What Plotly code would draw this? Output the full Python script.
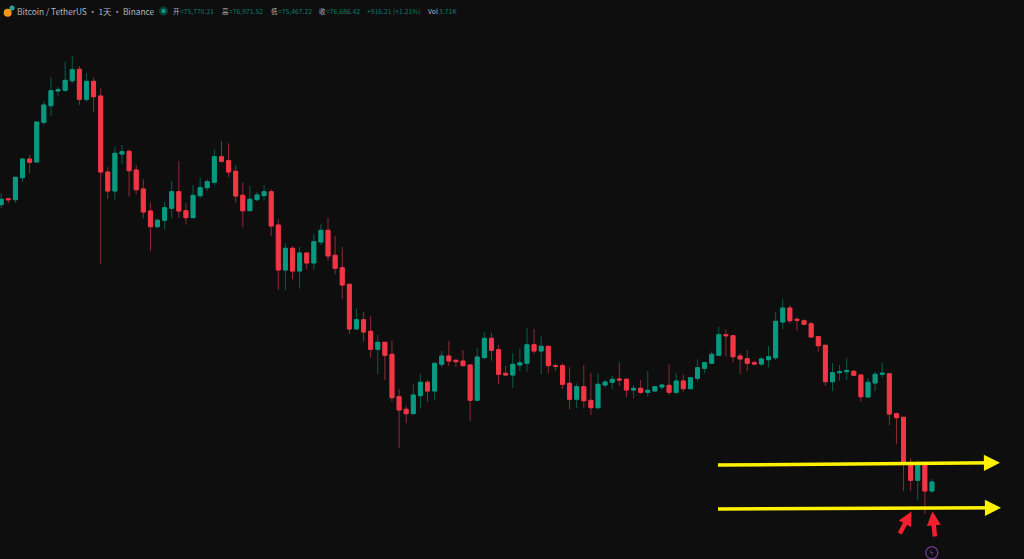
import plotly.graph_objects as go

# Daily BTC/USDT prices, in thousands of USDT
opens = [104.53,105.13,105.03,107.23,109.1,108.8,112.77,114.43,115.9,115.97,116.93,118.07,115.07,116.87,115.4,107.8,105.9,109.6,109.87,108,106.1,103.9,102.33,102.97,104.17,105.83,103.93,103.23,105.43,106.23,106.77,109.33,108.93,107.87,105.47,103.93,105.03,105.43,105.83,
102.5,98,100.17,97.9,99.7,98.7,100.8,101.97,99.47,98.23,96.57,92.1,93.03,91.87,90.07,90.77,89.57,85.33,84.07,83.63,85.43,86.77,85.9,88.57,89.4,88.97,88.9,88.5,84.97,89.23,91.17,90.03,87.67,87.5,88.5,88.67,90.53,89.9,90.37,
88.43,88.43,86.67,85.07,86.33,84.97,84.23,86.5,86.77,87.1,87.07,86,86.17,85.77,85.9,86.3,86.47,85.77,86.9,86.13,87.17,88.17,88.67,89.47,91.53,91.43,89.4,89.13,88.73,88.6,89.03,89.23,92.8,94.2,93.07,92.93,92.63,91.33,
90.47,86.83,87.73,87.83,87.87,87.5,85.3,86.7,87.57,87.63,83.63,83.27,78.6,76.97,78.5,75.9]
highs = [105.67,105.2,107.27,109.1,109.5,112.8,114.9,117.27,116.33,118.83,119.4,118.4,117.67,117.23,116.17,108.27,110.33,110.5,110.07,108.5,107.07,104.73,103.17,104.83,106.9,108.9,104.67,106.5,107.23,107.07,110.07,110.9,110.67,108.5,106.77,106.43,105.8,106.47,106.07,
103.07,100.67,100.4,100.33,99.7,101.6,102.57,103.23,101.4,100.33,96.57,94.17,93.83,93.4,91.5,90.77,90.93,86.1,84.4,86.57,87.6,87,88.67,89.9,90.9,89.07,90,88.5,90.17,91.77,91.73,90.5,88.4,89.67,90.17,92.17,92.1,91.33,90.4,
88.67,88.67,88.27,86.67,88.5,87.73,87.67,87,87.4,88.77,87.2,86.5,87,87.9,86.4,86.6,88.6,87.73,87.57,87.23,89.07,88.83,89.83,92.33,92.07,91.43,89.67,90,88.93,89.33,90.4,93.77,95.07,94.5,93.27,93.07,92.83,91.33,
90.57,88.67,88.5,89.23,88,87.6,87.17,87.83,88.73,87.63,83.73,83.27,79.17,79,78.67,77.1]
lows = [104.17,104.67,104.7,106.8,107.67,108.8,112.5,113.4,115.33,115.83,116.67,114.5,114.83,113.77,98.6,105.1,105.07,108.57,105.33,105.57,103.17,99.9,102.17,102.07,103.17,103.23,102.57,103.23,105.17,105.93,106.5,108.73,107.27,104.73,102.27,103.93,104.9,104.93,101.4,
96,96,97.1,96.13,98.07,98,100.5,98.93,97.57,95.1,91.6,92.1,90.83,89.23,87.57,87,84.83,80.17,82.67,83.63,84.13,84.83,85,88.27,88.4,88.3,88.43,82.87,84.97,89.23,88.93,86.57,87.43,86.23,87.9,87.83,89.6,87.57,87.67,
87.93,86.1,84.07,84.17,84.17,83.5,84.07,86.27,86.1,86.4,85.27,85.17,85.6,85.33,85.9,86.07,85.5,85.57,85.83,86.13,86.83,87.67,88.67,89.47,89.33,88.77,87.6,87.9,88.5,88.4,88.27,89,92.1,92.67,91.93,92.5,91.3,89.83,
86.4,85.9,86.93,87,87.4,84.83,85.23,85.9,87.23,82.5,80.57,75.9,75.9,75,73.6,75.73]
closes = [105.07,105.03,107.27,109.1,108.77,112.8,114.5,115.93,116.03,116.97,118.03,115.07,116.87,115.33,107.8,105.9,109.67,109.83,107.93,106.03,103.8,102.33,102.97,104.23,105.83,103.9,103.23,105.47,106.23,106.83,109.33,108.87,107.8,105.4,103.93,105.07,105.5,105.83,102.4,
98,100.17,97.9,99.7,98.7,100.83,101.97,99.4,98.17,96.5,92.1,93.03,91.8,90.07,90.77,89.47,85.23,84,83.63,85.5,86.77,85.9,88.67,89.4,88.9,88.83,88.43,84.97,89.3,91.17,89.97,87.57,87.5,88.57,88.73,90.53,89.9,90.37,88.43,
88.37,86.57,85.07,86.33,84.93,84.23,86.57,86.8,87.07,87,86,86.17,85.77,85.97,86.33,86.5,85.77,86.9,86.13,87.23,88.23,88.73,89.57,91.53,91.43,89.33,89.1,88.67,88.6,89.1,89.33,92.87,94.2,92.93,92.97,92.57,91.3,90.43,
86.83,87.73,87.83,87.93,87.47,85.33,86.77,87.57,87.67,83.6,83.23,78.6,76.97,78.5,75.9,76.8]
days = list(range(len(closes)))

title_text = "Bitcoin / TetherUS\u2009·\u20091天\u2009·\u2009Binance"
ohlc_labels = ["开", "高", "低", "收"]
ohlc_values = ["75,770.21", "76,971.52", "75,467.22", "76,686.42"]
change_text = "+916.21 (+1.21%)"
volume_label = "Vol"
volume_value = "3.71K"

BG = "#0e0e0e"
UP, DOWN = "#089981", "#f23645"
UP_WICK, DOWN_WICK = "#0a5c4e", "#8c2a34"
YELLOW, ARROW_RED = "#fff200", "#f5202e"

X_STEP, X_FIRST = 7.105, 1.2     # px per day, px of first candle
W, H = 1024, 559
def px_x(p): return (p - X_FIRST) / X_STEP
def px_y(p): return 125 - p / 10

fig = go.Figure()
# dim wicks underneath, bright bodies on top
fig.add_trace(go.Candlestick(
    x=days, open=opens, high=highs, low=lows, close=closes,
    increasing=dict(line=dict(color=UP_WICK, width=1), fillcolor=UP_WICK),
    decreasing=dict(line=dict(color=DOWN_WICK, width=1), fillcolor=DOWN_WICK),
    showlegend=False, hoverinfo="skip"))
fig.add_trace(go.Candlestick(
    x=days, open=opens, close=closes,
    high=[max(o, c) for o, c in zip(opens, closes)],
    low=[min(o, c) for o, c in zip(opens, closes)],
    increasing=dict(line=dict(color=UP, width=1), fillcolor=UP),
    decreasing=dict(line=dict(color=DOWN, width=1), fillcolor=DOWN),
    showlegend=False))

ann = []
def arrow(x0, y0, x1, y1, color, width, size, head=2):
    ann.append(dict(x=px_x(x1), y=px_y(y1), ax=px_x(x0), ay=px_y(y0),
                    xref="x", yref="y", axref="x", ayref="y", text="",
                    showarrow=True, arrowhead=head, arrowsize=size,
                    arrowwidth=width, arrowcolor=color, standoff=0))
arrow(716.5, 465, 1000, 462.8, YELLOW, 3.5, 0.92)
arrow(716.5, 509, 1001, 507.8, YELLOW, 3.5, 0.92)
arrow(899, 535, 911.5, 511.5, ARROW_RED, 4.5, 0.62)
arrow(935, 538, 932.5, 511.5, ARROW_RED, 4.5, 0.62)

def label(x, text, color, size, yp=11):
    ann.append(dict(x=x / W, y=1 - yp / H, xref="paper", yref="paper", text=text,
                    showarrow=False, xanchor="left", yanchor="middle", borderpad=0, borderwidth=0,
                    font=dict(family="Noto Sans CJK SC, Liberation Sans, sans-serif",
                              size=size, color=color)))
label(17, title_text, "#b4b7c0", 8.3)
xs = [173, 221.5, 270.5, 319]
GREY, GREEN = "#b4b7c0", "#0a7d6a"
for xp, l, v in zip(xs, ohlc_labels, ohlc_values):
    label(xp, l, GREY, 6.5)
    label(xp + 7, "=" + v, GREEN, 6.8)
label(367, change_text, GREEN, 6.8)
label(428, volume_label, GREY, 6.8)
label(439, volume_value, GREEN, 6.8)
ann.append(dict(x=px_x(931.8), y=px_y(552.7), xref="x", yref="y", text="ϟ", showarrow=False,
                font=dict(family="DejaVu Sans", size=7, color="#7a3ea0")))
fig.update_layout(annotations=ann)

# header dots and earnings-style marker
fig.add_trace(go.Scatter(x=[px_x(7.7)], y=[px_y(12.7)], mode="markers",
    marker=dict(size=8, color="#f7931a"), hoverinfo="skip", showlegend=False))
fig.add_trace(go.Scatter(x=[px_x(12)], y=[px_y(8)], mode="markers",
    marker=dict(size=5, color="#26a69a"), hoverinfo="skip", showlegend=False))
fig.add_trace(go.Scatter(x=[px_x(163.5)], y=[px_y(11)], mode="markers",
    marker=dict(size=9, color="rgba(8,153,129,0.35)"), hoverinfo="skip", showlegend=False))
fig.add_trace(go.Scatter(x=[px_x(163.5)], y=[px_y(11)], mode="markers",
    marker=dict(size=4.5, color=UP), hoverinfo="skip", showlegend=False))
fig.add_trace(go.Scatter(x=[px_x(931.8)], y=[px_y(552.7)], mode="markers",
    marker=dict(size=12, color="rgba(0,0,0,0)", line=dict(color="#6d3a8f", width=1.3)),
    hoverinfo="skip", showlegend=False))

fig.update_layout(
    width=W, height=H, margin=dict(l=0, r=0, t=0, b=0),
    paper_bgcolor=BG, plot_bgcolor=BG, boxgap=0.2, boxmode="overlay",
    xaxis=dict(range=[px_x(0), px_x(W)], visible=False, rangeslider=dict(visible=False)),
    yaxis=dict(range=[px_y(H), px_y(0)], visible=False),
    showlegend=False,
)
fig.write_html("out.html", config=dict(displayModeBar=False),
               post_script="document.body.style.margin='0';document.body.style.background='%s';" % BG)
